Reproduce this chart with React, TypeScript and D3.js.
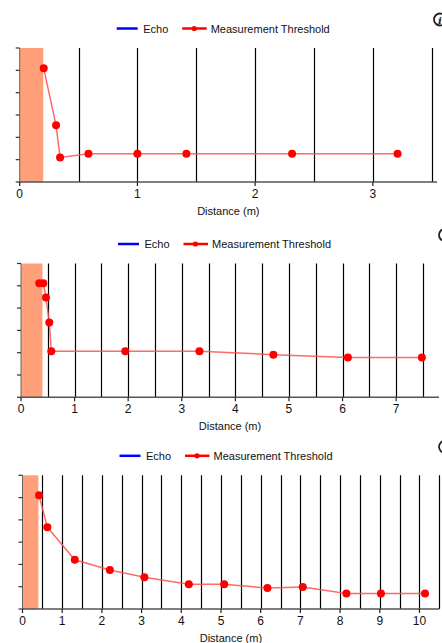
import React from 'react';
import * as d3 from 'd3';

// threshold curves (distance in m, arbitrary level)
const dist1 = [0.204, 0.309, 0.343, 0.584, 1.0, 1.416, 2.314, 3.21];
const level1 = [5.09, 2.54, 1.1, 1.27, 1.27, 1.27, 1.27, 1.27];

const dist2 = [0.34, 0.416, 0.466, 0.528, 0.566, 1.946, 3.33, 4.71, 6.1, 7.48];
const level2 = [5.11, 5.11, 4.47, 3.35, 2.06, 2.07, 2.07, 1.91, 1.78, 1.78];

const dist3 = [0.416, 0.626, 1.317, 2.2, 3.07, 4.19, 5.08, 6.17, 7.06, 8.16, 9.03, 10.14];
const level3 = [5.1, 3.67, 2.21, 1.75, 1.42, 1.11, 1.11, 0.94, 0.99, 0.7, 0.7, 0.7];

const xMaxes = [3.545, 7.8, 10.5];
const blanking = [0.2, 0.4, 0.4];
const legendLabels = ['Echo', 'Measurement Threshold'];
const xTitle = 'Distance (m)';

const FONT = '"Liberation Sans", Arial, sans-serif';

type PanelProps = {
  dist: number[];
  level: number[];
  xMax: number;
  blank: number;
  left: number;
  right: number;
  top: number;
  bottom: number;
  iconX: number;
};

function Panel({ dist, level, xMax, blank, left, right, top, bottom, iconX }: PanelProps) {
  const x = d3.scaleLinear().domain([0, xMax]).range([left, right]);
  const y = d3.scaleLinear().domain([0, 6]).range([bottom, top]);

  const pts = dist.map((d, i) => [d, level[i]] as [number, number]);
  const line = d3.line<[number, number]>().x(d => x(d[0])).y(d => y(d[1]));

  const grid = d3.range(0.5, xMax + 0.001, 0.5);
  const major = d3.range(0, Math.floor(xMax) + 1);
  const yTicks = y.ticks(6);

  const lx = left + 97;
  const ly = top - 19.5;

  return (
    <g>
      {/* legend */}
      <line x1={lx} x2={lx + 21} y1={ly} y2={ly} stroke="#0000ff" strokeWidth={2.5} />
      <text x={lx + 26.5} y={ly + 4} fontSize={11} fontFamily={FONT} fill="#111">{legendLabels[0]}</text>
      <line x1={lx + 65.5} x2={lx + 90} y1={ly} y2={ly} stroke="#ff0000" strokeWidth={2.5} />
      <circle cx={lx + 77.5} cy={ly} r={2.6} fill="#ff0000" />
      <text x={lx + 94} y={ly + 4} fontSize={11} fontFamily={FONT} fill="#111">{legendLabels[1]}</text>

      {/* info icon, clipped by the window edge */}
      <circle cx={iconX} cy={ly - 9} r={6} fill="none" stroke="#222" strokeWidth={1.8} />
      {iconX < 442 && (
        <text x={iconX} y={ly - 5} fontSize={10} fontWeight="bold" fontStyle="italic"
          fontFamily='"DejaVu Serif", serif' textAnchor="middle" fill="#222">i</text>
      )}

      {/* blanking distance */}
      <rect x={x(0)} y={top} width={x(blank) - x(0)} height={bottom - top} fill="#ffa07a" />

      {/* vertical grid */}
      {grid.map(g => (
        <line key={g} x1={Math.round(x(g)) + 0.5} x2={Math.round(x(g)) + 0.5} y1={top} y2={bottom}
          stroke="#000" strokeWidth={1.2} />
      ))}

      {/* y axis */}
      <line x1={left} x2={left} y1={top} y2={bottom} stroke="#666" strokeWidth={1} />
      {yTicks.map(t => (
        <line key={t} x1={left - 4} x2={left} y1={y(t)} y2={y(t)} stroke="#333" strokeWidth={1.2} />
      ))}

      {/* x axis */}
      <line x1={left} x2={right} y1={bottom} y2={bottom} stroke="#555" strokeWidth={1.5} />
      {major.map(t => (
        <g key={t}>
          <line x1={x(t)} x2={x(t)} y1={bottom} y2={bottom + 4} stroke="#222" strokeWidth={1.2} />
          <text x={x(t)} y={bottom + 15.5} fontSize={12} fontFamily={FONT} textAnchor="middle" fill="#111">{t}</text>
        </g>
      ))}
      <text x={(left + right) / 2} y={bottom + 33} fontSize={11} fontFamily={FONT} textAnchor="middle" fill="#111">{xTitle}</text>

      {/* threshold */}
      <path d={line(pts) || ''} fill="none" stroke="#ff5050" strokeOpacity={0.85} strokeWidth={1.5} />
      {pts.map((p, i) => (
        <circle key={i} cx={x(p[0])} cy={y(p[1])} r={4} fill="#ff0000" />
      ))}
    </g>
  );
}

export default function App() {
  return (
    <svg width={442} height={643} style={{ position: 'absolute', left: 0, top: 0, background: '#fff' }}>
      <rect width={442} height={643} fill="#fff" />
      <Panel dist={dist1} level={level1} xMax={xMaxes[0]} blank={blanking[0]}
        left={19.7} right={437} top={48} bottom={182} iconX={440} />
      <Panel dist={dist2} level={level2} xMax={xMaxes[1]} blank={blanking[1]}
        left={21} right={439} top={263.5} bottom={397.3} iconX={445} />
      <Panel dist={dist3} level={level3} xMax={xMaxes[2]} blank={blanking[2]}
        left={22.5} right={439.3} top={475.3} bottom={609} iconX={445} />
    </svg>
  );
}
